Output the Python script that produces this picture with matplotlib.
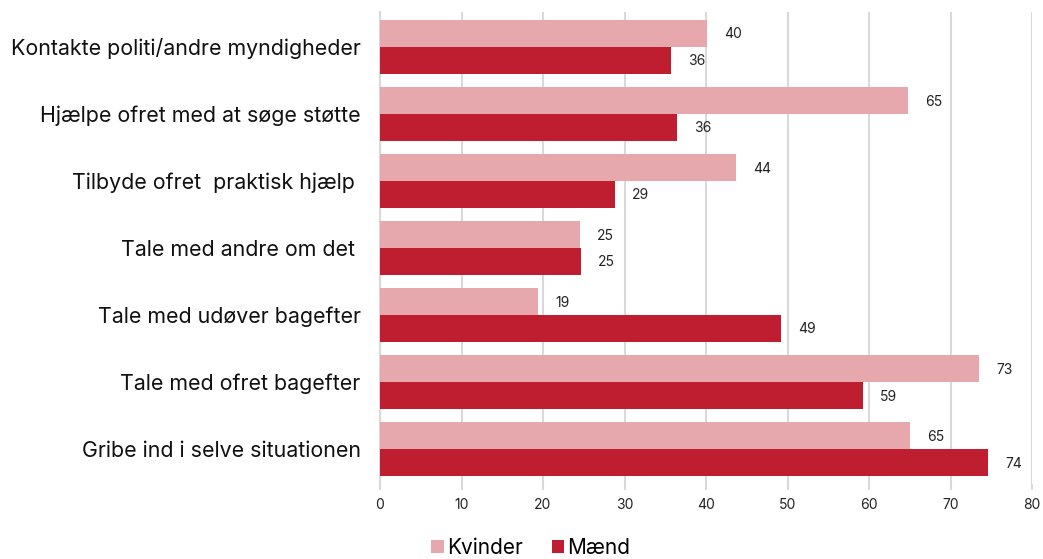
import matplotlib
matplotlib.use("Agg")
import matplotlib.pyplot as plt
import numpy as np

plt.rcParams['font.family'] = ['Inter', 'DejaVu Sans']

categories = [
    "Kontakte politi/andre myndigheder",
    "Hjælpe ofret med at søge støtte",
    "Tilbyde ofret  praktisk hjælp ",
    "Tale med andre om det ",
    "Tale med udøver bagefter",
    "Tale med ofret bagefter",
    "Gribe ind i selve situationen",
]
kvinder = [40.1, 64.8, 43.7, 24.5, 19.4, 73.5, 65.0]
maend = [35.7, 36.4, 28.8, 24.7, 49.2, 59.3, 74.6]
kvinder_labels = ["40", "65", "44", "25", "19", "73", "65"]
maend_labels = ["36", "36", "29", "25", "49", "59", "74"]
series_names = ["Kvinder", "Mænd"]
xticks = [0, 10, 20, 30, 40, 50, 60, 70, 80]

c_k = "#E6A7AD"
c_m = "#BE1E2F"
grid_c = "#D9D9D9"

fig = plt.figure(figsize=(10.43, 5.59), dpi=100)
ax = fig.add_axes([380/1043, 1-484/559, (1032-380)/1043, (484-12)/559])

y = np.arange(len(categories))
h = 0.4
b1 = ax.barh(y - h/2, kvinder, height=h, color=c_k, label=series_names[0], zorder=3)
b2 = ax.barh(y + h/2, maend, height=h, color=c_m, label=series_names[1], zorder=3)

for rect, lab in zip(b1, kvinder_labels):
    ax.annotate(lab, (rect.get_width(), rect.get_y() + rect.get_height()/2),
                xytext=(17, -1), textcoords='offset pixels', ha='left', va='center',
                fontsize=10, color='#222222')
for rect, lab in zip(b2, maend_labels):
    ax.annotate(lab, (rect.get_width(), rect.get_y() + rect.get_height()/2),
                xytext=(17, -1), textcoords='offset pixels', ha='left', va='center',
                fontsize=10, color='#222222')

ax.set_xlim(0, 80)
ax.set_ylim(len(categories) - 0.48, -0.52)
ax.set_yticks(y)
ax.set_yticklabels(categories, fontsize=15.4, color='#111111')
ax.set_xticks(xticks)
ax.set_xticklabels([str(t) for t in xticks], fontsize=10, color='#222222')
ax.tick_params(axis='y', length=0, pad=14)
ax.tick_params(axis='x', length=4, color=grid_c, width=1.5, pad=6)
ax.grid(axis='x', color=grid_c, linewidth=1.5, zorder=0)
for s in ['top', 'right', 'bottom']:
    ax.spines[s].set_visible(False)
ax.spines['left'].set_color(grid_c)
ax.spines['left'].set_linewidth(1.5)

fig.legend(handles=[b1, b2], labels=series_names, loc='center',
           bbox_to_anchor=(0.509, 0.02), ncol=2, frameon=False, fontsize=15,
           handlelength=0.6, handleheight=0.6, handletextpad=0.15, columnspacing=1.4,
           borderpad=0.1)

fig.savefig("out.png", dpi=100)
